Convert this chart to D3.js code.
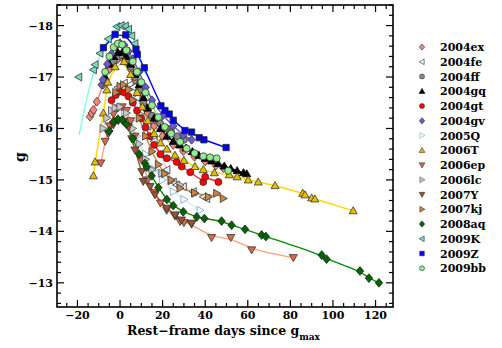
<!DOCTYPE html>
<html><head><meta charset="utf-8">
<script src="https://cdn.jsdelivr.net/npm/d3@7"></script>
<style>
html,body{margin:0;padding:0;background:#fff;}
svg text{font-family:"DejaVu Serif",serif;font-weight:bold;fill:#000;}
</style></head>
<body>
<svg id="chart" width="502" height="348"></svg>
<script>
// ---------- data: [rest-frame day, g magnitude] ----------
const sn2004ex = [[-14.1,-16.23],[-13.3,-16.3],[-12.5,-16.36],[-10.9,-16.52],[-8,-16.85],[-5,-17.15],[-3,-17.28],[-1,-17.35],[1,-17.37],[3,-17.3],[5,-17.15],[7,-16.95],[10,-16.6],[13,-16.3],[16,-16.05],[20,-15.85],[25,-15.68],[29.7,-15.56],[35,-15.45],[40,-15.36],[45,-15.28],[48.5,-15.23]];
const sn2004fe = [[-1,-16.8],[2,-16.88],[4.7,-16.85],[6.3,-16.8],[8,-16.6],[10,-16.35],[13,-16.05],[16,-15.75],[19,-15.5],[22,-15.2],[25,-14.96],[26.6,-14.9],[29.7,-14.87],[34.4,-14.77],[39.1,-14.67],[40.7,-14.64]];
const sn2004ff = [[-3,-17.3],[-1,-17.4],[1,-17.42],[3,-17.35],[5,-17.2],[7,-17.0],[9,-16.75],[11,-16.5],[12.5,-16.39],[15,-16.25],[17.2,-16.15],[18.8,-16.1],[21.9,-16.0],[24,-15.93],[27,-15.85],[30,-15.78]];
const sn2004gq = [[-7,-17.0],[-5,-17.25],[-3,-17.4],[-1,-17.48],[1,-17.48],[3,-17.4],[5,-17.25],[7,-17.05],[9,-16.85],[11,-16.6],[13,-16.4],[16,-16.2],[19,-16.0],[22,-15.85],[25,-15.75],[28,-15.68],[31,-15.62],[34,-15.55],[37,-15.48],[40,-15.42],[43,-15.37],[46,-15.32],[49,-15.27],[52,-15.22],[55,-15.18],[58,-15.14],[59.5,-15.12]];
const sn2004gt = [[-4,-16.55],[-2,-16.65],[0,-16.72],[2,-16.7],[4,-16.62],[6,-16.5],[8,-16.35],[10,-16.2],[12,-16.02],[14,-15.85],[16,-15.68],[19,-15.5],[22,-15.42],[26.6,-15.35],[29,-15.26],[33,-15.15],[39.1,-14.96],[40,-15.06],[46.2,-14.96]];
const sn2004gv = [[-8.6,-16.85],[-8,-16.95],[-6,-17.25],[-4,-17.45],[-2,-17.6],[0,-17.66],[2,-17.62],[4,-17.5],[6,-17.35],[9,-17.1],[12,-16.8],[15,-16.55],[20,-16.25],[25,-16.05],[29.7,-15.87],[33.6,-15.78]];
const sn2005Q  = [[-4,-16.3],[-2,-16.38],[0,-16.4],[2,-16.35],[5,-16.15],[8,-15.85],[12,-15.5],[16,-15.2],[20,-15.0],[25,-14.77],[30,-14.62],[37.6,-14.41]];
const sn2006T  = [[-12.5,-15.08],[-11.7,-15.35],[-7.8,-16.3],[-6.2,-16.75],[-5.8,-16.9],[-2.3,-17.2],[1.9,-17.3],[5,-17.05],[8,-16.7],[10.5,-16.42],[13,-16.15],[16,-15.9],[19,-15.72],[22,-15.6],[25.8,-15.48],[30,-15.38],[35.2,-15.26],[39.1,-15.2],[44.3,-15.14],[51.3,-15.1],[55,-15.06],[60.2,-15.0],[64.9,-14.96],[72.8,-14.89],[85.8,-14.74],[86.9,-14.71],[90,-14.65],[91.5,-14.63],[109.5,-14.4]];
const sn2006ep = [[-9,-15.33],[-7,-15.75],[-5,-16.05],[-3,-16.28],[-1,-16.4],[1,-16.42],[3,-16.35],[5,-16.15],[7,-15.85],[10,-15.4],[13,-15.0],[16,-14.75],[19,-14.55],[21.9,-14.41],[25.8,-14.3],[28.2,-14.19],[30,-14.17],[33.6,-14.14],[43,-13.88],[52,-13.88],[61.8,-13.64],[81.4,-13.49]];
const sn2006lc = [[-8,-16.0],[-6.2,-16.2],[-4,-16.35],[-2.3,-16.4],[0,-16.42],[3,-16.3],[6,-16.0],[9,-15.7],[12,-15.4],[15,-15.2],[19.6,-15.13],[24,-14.98],[28.2,-14.9],[35.2,-14.74]];
const sn2007Y  = [[-5.5,-15.9],[-3.1,-16.07],[-0.8,-16.15],[1.5,-16.14],[3.9,-16.03],[5.5,-15.8],[7,-15.58],[10.2,-15.16],[10.9,-14.97],[14.1,-14.87],[16.4,-14.71],[21.9,-14.45],[25.8,-14.32],[28.9,-14.22],[33.6,-14.16]];
const sn2007kj = [[-2,-16.7],[0,-16.82],[1.6,-16.85],[4,-16.75],[6,-16.55],[9,-16.2],[12,-15.85],[15,-15.55],[18,-15.3],[21,-15.12],[24,-15.0],[28.2,-14.84],[35,-14.75],[41.5,-14.67],[45.4,-14.74],[48.5,-14.64]];
const sn2008aq = [[-5,-15.95],[-3.1,-16.13],[-1,-16.18],[1,-16.17],[3,-16.08],[6,-15.8],[9,-15.5],[11.7,-15.32],[12.5,-15.25],[14.9,-15.08],[18,-14.85],[22,-14.62],[25,-14.5],[29.7,-14.38],[36,-14.28],[39.6,-14.25],[47.7,-14.2],[52.4,-14.12],[58.7,-14.04],[66.5,-13.93],[68.5,-13.9],[94.7,-13.54],[97,-13.46],[112.7,-13.23],[116.9,-13.09],[121.6,-13.0]];
const sn2009K  = [[-19.4,-17.0],[-12.5,-17.14],[-11.7,-17.24],[-9.4,-17.46],[-5.5,-17.74],[-1.5,-17.98],[0.5,-18.0],[2.5,-17.99],[4,-17.93],[5.5,-17.8],[7,-17.65]];
const fit2009K = [[-19.2,-15.87],[-15,-16.75],[-10,-17.4],[-5,-17.82],[0,-18.0],[3,-17.98],[6,-17.78],[9,-17.45],[12,-17.05]];
const sn2009Z  = [[-7.8,-17.57],[-2.3,-17.83],[2.7,-17.82],[7.5,-17.54],[8.1,-17.44],[11.4,-17.18],[19.2,-16.44],[21.1,-16.35],[23.1,-16.28],[25,-16.16],[30.5,-15.96],[33.6,-15.93],[37.2,-15.82],[39.4,-15.78],[49.8,-15.63]];
const sn2009bb = [[-7,-17.1],[-5,-17.4],[-3,-17.58],[-1,-17.65],[1,-17.63],[3,-17.52],[6,-17.3],[8,-17.1],[10,-16.9],[12,-16.7],[15,-16.45],[18,-16.22],[21,-16.03],[24,-15.9],[28.2,-15.74],[31.3,-15.61],[35,-15.52],[39.1,-15.46],[42.3,-15.44],[45.4,-15.42],[50.8,-15.18]];

const names   = ["2004ex","2004fe","2004ff","2004gq","2004gt","2004gv","2005Q","2006T","2006ep","2006lc","2007Y","2007kj","2008aq","2009K","2009Z","2009bb"];
const series  = [sn2004ex,sn2004fe,sn2004ff,sn2004gq,sn2004gt,sn2004gv,sn2005Q,sn2006T,sn2006ep,sn2006lc,sn2007Y,sn2007kj,sn2008aq,sn2009K,sn2009Z,sn2009bb];
const fits    = [sn2004ex,sn2004fe,sn2004ff,sn2004gq,sn2004gt,sn2004gv,sn2005Q,sn2006T,sn2006ep,sn2006lc,sn2007Y,sn2007kj,sn2008aq,fit2009K,sn2009Z,sn2009bb];
const shapes  = ["diamond","left","circle","up","circle","diamond","right","up","down","right","down","right","diamond","left","square","circle"];
const fills   = ["#f08878","#f2f2f2","#8a8a8a","#000000","#ff0000","#6a5acd","#f4fbff","#e6be00","#dd6a44","#c8c8c8","#a0522d","#cd853f","#006400","#78dcc0","#0000ff","#90ee90"];
const strokes = ["#333","#333","#333","#000","#333","#333","#7aa6c0","#333","#333","#555","#333","#333","#222","#333","#222","#333"];
const lineCol = ["#fa8072","#d9d9d9","#9a9a9a","#000000","#ff2020","#6a5acd","#d8ecf4","#ffd700","#ffa07a","#dcdcdc","#a0522d","#cd853f","#009000","#7fffd4","#0000ff","#80e080"];

const xTicks = [-20,0,20,40,60,80,100,120];
const yTicks = [-18,-17,-16,-15,-14,-13];

// ---------- layout ----------
const L=57,R=393,T=5,B=307;
const x = d3.scaleLinear().domain([-29.6,128.2]).range([L,R]);
const y = d3.scaleLinear().domain([-12.53,-18.4]).range([B,T]);
const svg = d3.select("#chart");

function sym(type,r){
  switch(type){
    case "circle": return `M${r},0A${r},${r} 0 1,1 ${-r},0A${r},${r} 0 1,1 ${r},0Z`;
    case "square": {const s=r*0.9; return `M${-s},${-s}H${s}V${s}H${-s}Z`;}
    case "diamond": {const s=r*1.25; return `M0,${-s}L${s*0.85},0L0,${s}L${-s*0.85},0Z`;}
    case "up": {const s=r*1.15; return `M0,${-s}L${s},${s*0.75}L${-s},${s*0.75}Z`;}
    case "down": {const s=r*1.15; return `M0,${s}L${s},${-s*0.75}L${-s},${-s*0.75}Z`;}
    case "left": {const s=r*1.15; return `M${-s},0L${s*0.75},${-s}L${s*0.75},${s}Z`;}
    case "right": {const s=r*1.15; return `M${s},0L${-s*0.75},${-s}L${-s*0.75},${s}Z`;}
  }
}

const plot = svg.append("g");
plot.append("defs").append("clipPath").attr("id","clip").append("rect")
  .attr("x",L).attr("y",T).attr("width",R-L).attr("height",B-T);

// fit lines
const line = d3.line().x(d=>x(d[0])).y(d=>y(d[1])).curve(d3.curveBasis);
const gl = plot.append("g").attr("clip-path","url(#clip)");
fits.forEach((f,i)=>{
  gl.append("path").attr("d",line(f)).attr("fill","none")
    .attr("stroke",lineCol[i]).attr("stroke-width",1.4);
});
// markers
const gm = plot.append("g").attr("clip-path","url(#clip)");
series.forEach((s,i)=>{
  gm.selectAll(null).data(s).enter().append("path")
    .attr("transform",d=>`translate(${x(d[0])},${y(d[1])})`)
    .attr("d",sym(shapes[i],3.5))
    .attr("fill",fills[i]).attr("stroke",strokes[i]).attr("stroke-width",0.8);
});

// ---------- axes (ticks inward on all sides) ----------
const ax = svg.append("g");
const xMinor = d3.range(-25,128,5).filter(v=>!xTicks.includes(v));
const yMinor = d3.range(-18.4,-12.5,0.2).map(v=>+v.toFixed(1)).filter(v=>!yTicks.includes(v)&&v>=-18.4&&v<=-12.53);
function tk(x1,y1,x2,y2){ax.append("line").attr("x1",x1).attr("y1",y1).attr("x2",x2).attr("y2",y2).attr("stroke","#000").attr("stroke-width",1.2);}
xTicks.forEach(v=>{const p=x(v); tk(p,B,p,B-7); tk(p,T,p,T+7);});
xMinor.forEach(v=>{const p=x(v); tk(p,B,p,B-4); tk(p,T,p,T+4);});
yTicks.forEach(v=>{const p=y(v); tk(L,p,L+7,p); tk(R,p,R-7,p);});
yMinor.forEach(v=>{const p=y(v); tk(L,p,L+4,p); tk(R,p,R-4,p);});
ax.append("rect").attr("x",L).attr("y",T).attr("width",R-L).attr("height",B-T)
  .attr("fill","none").attr("stroke","#000").attr("stroke-width",1.6);

const fmt = v => v<0 ? "\u2212"+Math.abs(v) : String(v);
ax.selectAll(null).data(xTicks).enter().append("text")
  .attr("x",d=>x(d)).attr("y",319).attr("text-anchor","middle")
  .attr("font-size",11).text(fmt);
ax.selectAll(null).data(yTicks).enter().append("text")
  .attr("x",53).attr("y",d=>y(d)+4).attr("text-anchor","end")
  .attr("font-size",11).text(fmt);

// axis titles
const xt = ax.append("text").attr("x",127).attr("y",335).attr("font-size",12.5);
xt.append("tspan").text("Rest\u2212frame days since g");
xt.append("tspan").attr("dy",5).attr("font-size",9).text("max");
ax.append("text").attr("transform","translate(25,157) rotate(-90)")
  .attr("text-anchor","middle").attr("font-size",14).text("g");

// ---------- legend ----------
const lg = svg.append("g");
names.forEach((n,i)=>{
  const yy = 47 + i*14.75;
  lg.append("path").attr("transform",`translate(422,${yy})`).attr("d",sym(shapes[i],2.5))
    .attr("fill",fills[i]).attr("stroke",strokes[i]).attr("stroke-width",0.6);
  lg.append("text").attr("x",440).attr("y",yy+4).attr("font-size",11).text(n);
});
</script>
</body></html>
